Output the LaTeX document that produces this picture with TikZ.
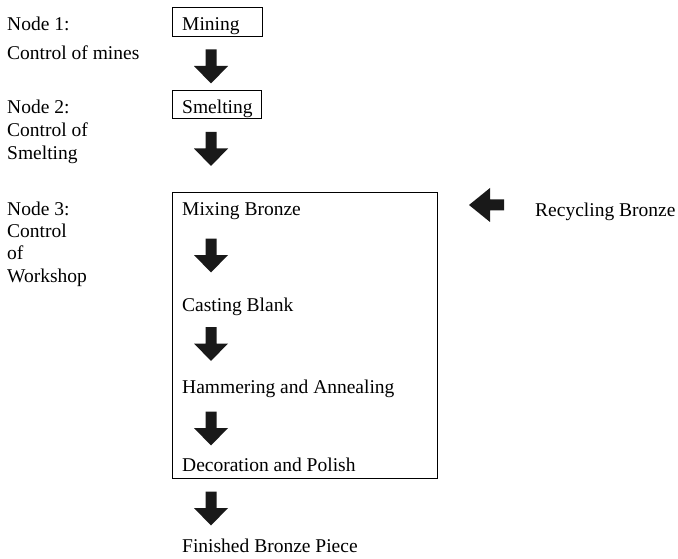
\documentclass[tikz,border=0pt]{standalone}
\usepackage{fontspec}
\setmainfont{Liberation Serif}
\begin{document}
\begin{tikzpicture}[x=1pt,y=-1pt,
  txt/.style={anchor=base west,inner sep=0pt,font=\fontsize{19.5}{22}\selectfont,text=black},
  stagebox/.style={draw=black,line width=0.8pt,inner sep=0pt},
  darr/.pic={\fill[black!90] (-5.5,0) -- (5.5,0) -- (5.5,16.5) -- (17,16.5) -- (0,34) -- (-17,16.5) -- (-5.5,16.5) -- cycle;},
  larr/.pic={\fill[black!90] (0,0) -- (21,-17) -- (21,-5.5) -- (35,-5.5) -- (35,5.5) -- (21,5.5) -- (21,17) -- cycle;}]
\useasboundingbox (0,0) rectangle (678,559);
% left column
\node[txt] (n1a) at (7,31) {Node 1:};
\node[txt] (n1b) at (7,60) {Control of mines};
\node[txt] (n2a) at (7,114) {Node 2:};
\node[txt] (n2b) at (7,137) {Control of};
\node[txt] (n2c) at (7,160) {Smelting};
\node[txt] (n3a) at (7,215) {Node 3:};
\node[txt] (n3b) at (7,237) {Control};
\node[txt] (n3c) at (7,259) {of};
\node[txt] (n3d) at (7,282) {Workshop};
% boxes
\node[stagebox,minimum width=90pt,minimum height=29pt] (miningbox) at (217,21.5) {};
\node[stagebox,minimum width=89pt,minimum height=28.5pt] (smeltbox) at (216.5,104.2) {};
\node[stagebox,minimum width=265.5pt,minimum height=286pt] (workbox) at (304.75,335) {};
% stage texts
\node[txt] (mining) at (182,31) {Mining};
\node[txt] (smelting) at (182,113.5) {Smelting};
\node[txt] (mixing) at (182,215) {Mixing Bronze};
\node[txt] (casting) at (182,311.5) {Casting Blank};
\node[txt] (hammer) at (182,393) {Hammering and Annealing};
\node[txt] (decor) at (182,471.5) {Decoration and Polish};
\node[txt] (finished) at (182,552) {Finished Bronze Piece};
\node[txt] (recyc) at (535,216) {Recycling Bronze};
% block arrows
\pic at (211,49.5) {darr};
\pic at (211,132) {darr};
\pic at (211,238.5) {darr};
\pic at (211,327) {darr};
\pic at (211,411.5) {darr};
\pic at (211,491.5) {darr};
\pic at (469,205) {larr};
\end{tikzpicture}
\end{document}
